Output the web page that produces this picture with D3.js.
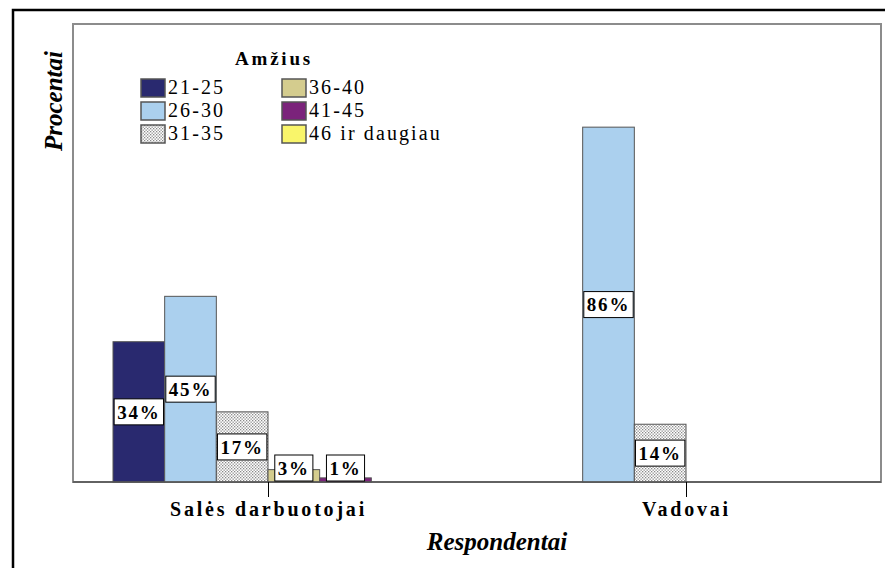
<!DOCTYPE html>
<html>
<head>
<meta charset="utf-8">
<script src="https://cdn.jsdelivr.net/npm/d3@7"></script>
<style>
  html, body { margin: 0; padding: 0; background: #fff; }
  svg { display: block; }
  text { font-family: "Liberation Serif", "Times New Roman", serif; fill: #000; }
</style>
</head>
<body>
<svg id="chart" width="885" height="568"></svg>
<script>
// Respondent groups and age brackets
const categories = ["Salės darbuotojai", "Vadovai"];
const ageGroups = ["21-25", "26-30", "31-35", "36-40", "41-45", "46 ir daugiau"];
// Share (%) of each age bracket within a respondent group
const salesValues = [34, 45, 17, 3, 1, 0];
const managerValues = [0, 86, 14, 0, 0, 0];
const seriesValues = [salesValues, managerValues];
const ageColors = ["#29296f", "#abd0ee", "url(#dots)", "#d4cc8e", "#7b237b", "#f9f56a"];

const svg = d3.select("#chart");
const plot = { left: 73, right: 881, top: 24, bottom: 482 };

// Stipple fill for the 31-35 bracket
const defs = svg.append("defs");
const pat = defs.append("pattern").attr("id", "dots")
  .attr("patternUnits", "userSpaceOnUse").attr("width", 3).attr("height", 3);
pat.append("rect").attr("width", 3).attr("height", 3).attr("fill", "#fff");
pat.append("rect").attr("x", 0).attr("y", 0).attr("width", 1.3).attr("height", 1.3).attr("fill", "#8a8a8a");
pat.append("rect").attr("x", 1.5).attr("y", 1.5).attr("width", 1.3).attr("height", 1.3).attr("fill", "#8a8a8a");

// Outer frame (top and left edges)
svg.append("path").attr("d", "M13,568V10H885")
  .attr("fill", "none").attr("stroke", "#000").attr("stroke-width", 2.5);

// Plot frame
svg.append("rect")
  .attr("x", plot.left).attr("y", plot.top)
  .attr("width", plot.right - plot.left).attr("height", plot.bottom - plot.top)
  .attr("fill", "#fff").attr("stroke", "#8c8c8c").attr("stroke-width", 2);

const x = d3.scalePoint().domain(categories).range([268, 686]);
const xInner = d3.scaleBand().domain(ageGroups).range([-155, 155]);
const y = d3.scaleLinear().domain([0, 111]).range([plot.bottom, plot.top]);

const rows = [];
categories.forEach((c, ci) => {
  ageGroups.forEach((a, ai) => {
    rows.push({ cat: c, age: a, ai, value: seriesValues[ci][ai] });
  });
});
const shown = rows.filter(d => d.value > 0);

// Bars
svg.append("g").selectAll("rect").data(shown).join("rect")
  .attr("x", d => x(d.cat) + xInner(d.age))
  .attr("y", d => y(d.value))
  .attr("width", xInner.bandwidth())
  .attr("height", d => y(0) - y(d.value))
  .attr("fill", d => ageColors[d.ai])
  .attr("stroke", "#555").attr("stroke-width", 1);

// Baseline
svg.append("line")
  .attr("x1", plot.left).attr("x2", plot.right)
  .attr("y1", y(0)).attr("y2", y(0))
  .attr("stroke", "#555").attr("stroke-width", 1.5);

// Category axis
const xAxis = d3.axisBottom(x).tickSize(15).tickPadding(5);
const gx = svg.append("g").attr("transform", `translate(0,${y(0)})`).call(xAxis);
gx.select(".domain").remove();
gx.selectAll(".tick line").attr("stroke", "#000");
gx.selectAll(".tick text")
  .attr("fill", "#000")
  .style("font-family", '"Liberation Serif", "Times New Roman", serif')
  .style("font-size", "20px").style("font-weight", "bold")
  .style("letter-spacing", "2.8px")
  .attr("dy", "0.71em");

// Value labels
const labelH = 26;
const lab = svg.append("g").selectAll("g").data(shown).join("g")
  .attr("transform", d => {
    const cx = x(d.cat) + xInner(d.age) + xInner.bandwidth() / 2;
    const mid = (y(d.value) + y(0)) / 2;
    const cy = Math.min(mid, y(0) - labelH / 2 - 1);
    return `translate(${cx},${cy})`;
  });
lab.append("rect").attr("fill", "#fff").attr("stroke", "#000").attr("stroke-width", 1);
lab.append("text")
  .attr("text-anchor", "middle").attr("dy", "0.35em")
  .style("font-size", "19px").style("font-weight", "bold").style("letter-spacing", "1.8px")
  .text(d => d.value + "%");
lab.each(function () {
  const g = d3.select(this);
  const w = Math.min(g.select("text").node().getComputedTextLength() + 6, xInner.bandwidth());
  g.select("rect").attr("x", -w / 2).attr("y", -labelH / 2).attr("width", w).attr("height", labelH);
});

// Legend
svg.append("text").attr("x", 274).attr("y", 65).attr("text-anchor", "middle")
  .style("font-size", "19px").style("font-weight", "bold").style("letter-spacing", "2.8px")
  .text("Amžius");
const legend = svg.append("g").selectAll("g").data(ageGroups).join("g")
  .attr("transform", (d, i) => `translate(${i < 3 ? 141 : 282},${79 + (i % 3) * 23})`);
legend.append("rect").attr("width", 24).attr("height", 18)
  .attr("fill", (d, i) => ageColors[i]).attr("stroke", "#555").attr("stroke-width", 1.5);
legend.append("text").attr("x", 27).attr("y", 15)
  .style("font-size", "20px").style("letter-spacing", "2.1px")
  .text(d => d);

// Axis titles
svg.append("text").attr("x", 497).attr("y", 550).attr("text-anchor", "middle")
  .style("font-size", "25px").style("font-weight", "bold").style("font-style", "italic")
  .text("Respondentai");
svg.append("text").attr("transform", "translate(62,101) rotate(-90)").attr("text-anchor", "middle")
  .style("font-size", "25px").style("font-weight", "bold").style("font-style", "italic")
  .text("Procentai");
</script>
</body>
</html>
